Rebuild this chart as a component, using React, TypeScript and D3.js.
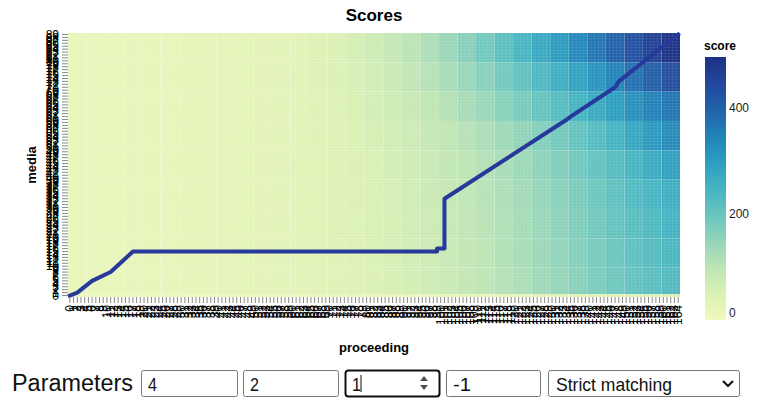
import * as d3 from "d3";

// category labels on both axes
const proceeding = d3.range(165).map(String);
const media = d3.range(90).map(String);

// heatmap is read in blocks: 5 proceedings wide, media bands below
const colStarts = d3.range(0, 165, 5);
const rowStarts = [0, 1, 10, 20, 30, 40, 50, 60, 70, 80];

// score per block, bottom band first (33 columns each)
const scoreBand0 = [5, 5, 5, 6, 6, 6, 7, 7, 8, 8, 9, 9, 10, 10, 11, 12, 13, 14, 15, 16, 17, 18, 19, 20, 21, 22, 24, 26, 28, 30, 32, 34, 36];
const scoreBand1 = [17, 18, 18, 19, 20, 21, 22, 23, 24, 26, 28, 30, 32, 35, 39, 44, 50, 56, 63, 71, 80, 89, 99, 110, 122, 135, 149, 163, 178, 192, 206, 219, 230];
const scoreBand2 = [17, 18, 18, 19, 20, 21, 22, 23, 24, 26, 28, 30, 32, 36, 40, 45, 51, 57, 64, 72, 81, 91, 102, 114, 126, 139, 153, 168, 183, 198, 213, 227, 240];
const scoreBand3 = [17, 18, 18, 19, 20, 21, 22, 23, 24, 26, 28, 30, 32, 36, 41, 46, 52, 58, 65, 74, 83, 93, 104, 116, 129, 143, 158, 173, 189, 204, 219, 234, 250];
const scoreBand4 = [17, 18, 18, 19, 20, 21, 22, 23, 24, 26, 28, 30, 32, 37, 41, 47, 53, 60, 68, 77, 86, 96, 107, 119, 132, 147, 162, 179, 196, 212, 229, 246, 262];
const scoreBand5 = [17, 18, 18, 19, 20, 21, 22, 23, 24, 26, 28, 30, 32, 38, 42, 48, 55, 62, 70, 80, 90, 100, 112, 125, 140, 156, 172, 190, 208, 226, 246, 268, 292];
const scoreBand6 = [17, 18, 18, 19, 20, 21, 22, 23, 24, 26, 28, 30, 32, 39, 44, 50, 57, 65, 75, 85, 96, 108, 121, 136, 152, 168, 186, 205, 226, 250, 278, 305, 330];
const scoreBand7 = [17, 18, 18, 19, 20, 21, 22, 23, 24, 26, 28, 30, 32, 40, 46, 53, 62, 72, 83, 96, 110, 126, 143, 162, 182, 203, 225, 248, 272, 297, 322, 345, 368];
const scoreBand8 = [17, 18, 18, 19, 20, 21, 22, 23, 24, 26, 28, 30, 32, 41, 48, 57, 67, 79, 92, 107, 124, 143, 164, 186, 210, 235, 261, 288, 316, 345, 375, 405, 435];
const scoreBand9 = [17, 18, 18, 19, 20, 21, 22, 23, 24, 26, 28, 30, 32, 42, 50, 60, 72, 86, 102, 120, 141, 164, 189, 216, 244, 273, 303, 334, 366, 398, 430, 460, 490];
const scoreBands = [scoreBand0, scoreBand1, scoreBand2, scoreBand3, scoreBand4, scoreBand5, scoreBand6, scoreBand7, scoreBand8, scoreBand9];

// best alignment path (corner cells)
const pathProceeding = [0, 2, 6, 11, 17, 99, 99, 101, 101, 134, 135, 147, 148, 164];
const pathMedia = [0, 1, 5, 8, 15, 15, 16, 16, 33, 60, 61, 71, 73, 89];

const scoreMax = 495;
const legendTicks = [0, 200, 400];
const ygbColors = ["#eff9bd", "#dbf1b4", "#bde5b5", "#94d5b9", "#69c5be", "#45b4c2", "#2c9ec0", "#2182b8", "#2163aa", "#23479c", "#1c3185"];

const paramValues = ["4", "2", "1", "-1"];
const matchMode = "Strict matching";

const W = 757;
const H = 398;
const plot = { left: 68, right: 680, top: 33, bottom: 297 };
const FONT = "'Liberation Sans', Arial, sans-serif";

export default function App() {
  const x = d3.scaleBand().domain(proceeding).range([plot.left, plot.right]);
  const y = d3.scaleBand().domain(media).range([plot.bottom, plot.top]);
  const bwx = x.bandwidth();
  const bwy = y.bandwidth();
  const color = d3.scaleSequential(d3.piecewise(d3.interpolateRgb, ygbColors)).domain([0, scoreMax]);

  const cells: { x0: number; x1: number; y0: number; y1: number; v: number }[] = [];
  rowStarts.forEach((rs, ri) => {
    const re = ri + 1 < rowStarts.length ? rowStarts[ri + 1] : media.length;
    colStarts.forEach((cs, ci) => {
      const ce = ci + 1 < colStarts.length ? colStarts[ci + 1] : proceeding.length;
      cells.push({
        x0: x(String(cs))!,
        x1: x(String(ce - 1))! + bwx,
        y0: y(String(re - 1))!,
        y1: y(String(rs))! + bwy,
        v: scoreBands[ri][ci],
      });
    });
  });

  const line = d3
    .line<number>()
    .x((i) => x(String(pathProceeding[i]))! + bwx / 2)
    .y((i) => y(String(pathMedia[i]))! + bwy / 2);

  const ly = d3.scaleLinear().domain([0, scoreMax]).range([320, 57]);

  const boxes = [
    { x: 141, w: 96 },
    { x: 243, w: 95 },
    { x: 345, w: 94 },
    { x: 446, w: 94 },
  ];

  return (
    <div style={{ position: "absolute", left: 0, top: 0 }}>
      <svg width={W} height={H} style={{ display: "block", background: "#fff" }}>
        <defs>
          <linearGradient id="lg" x1="0" y1="1" x2="0" y2="0">
            {ygbColors.map((c, i) => (
              <stop key={i} offset={i / (ygbColors.length - 1)} stopColor={c} />
            ))}
          </linearGradient>
        </defs>

        <text x={(plot.left + plot.right) / 2} y={21} textAnchor="middle" fontFamily={FONT} fontWeight="bold" fontSize={17}>
          Scores
        </text>

        {cells.map((c, i) => (
          <rect key={i} x={c.x0} y={c.y0} width={c.x1 - c.x0} height={c.y1 - c.y0} fill={color(c.v)} />
        ))}
        {/* faint cell seams */}
        <g stroke="#fff" strokeOpacity={0.16} strokeWidth={0.6}>
          {proceeding.map((p) => (
            <line key={"v" + p} x1={x(p)!} x2={x(p)!} y1={plot.top} y2={plot.bottom} />
          ))}
          {media.map((m) => (
            <line key={"h" + m} x1={plot.left} x2={plot.right} y1={y(m)!} y2={y(m)!} />
          ))}
        </g>

        <path
          d={line(d3.range(pathProceeding.length)) ?? ""}
          fill="none"
          stroke="#27399a"
          strokeWidth={4}
          strokeLinejoin="round"
          strokeLinecap="square"
        />

        {/* x axis */}
        <g>
          {proceeding.map((p) => {
            const cx = x(p)! + bwx / 2;
            return (
              <g key={p}>
                <line x1={cx} x2={cx} y1={plot.bottom} y2={plot.bottom + 6} stroke="#888" strokeWidth={1} />
                <text
                  transform={`translate(${cx + 4},${plot.bottom + 8}) rotate(-90)`}
                  textAnchor="end"
                  fontFamily={FONT}
                  fontSize={12}
                  fill="#000"
                >
                  {p}
                </text>
              </g>
            );
          })}
          <text x={(plot.left + plot.right) / 2} y={352} textAnchor="middle" fontFamily={FONT} fontWeight="bold" fontSize={13}>
            proceeding
          </text>
        </g>

        {/* y axis */}
        <g>
          {media.map((m) => {
            const cy = y(m)! + bwy / 2;
            return (
              <g key={m}>
                <line x1={plot.left - 6} x2={plot.left} y1={cy} y2={cy} stroke="#888" strokeWidth={1} />
                <text x={plot.left - 9} y={cy} dy="0.35em" textAnchor="end" fontFamily={FONT} fontSize={12} fill="#000">
                  {m}
                </text>
              </g>
            );
          })}
          <text
            transform={`translate(36,${(plot.top + plot.bottom) / 2}) rotate(-90)`}
            textAnchor="middle"
            fontFamily={FONT}
            fontWeight="bold"
            fontSize={13}
          >
            media
          </text>
        </g>

        {/* legend */}
        <g>
          <text x={704} y={50} fontFamily={FONT} fontWeight="bold" fontSize={12}>
            score
          </text>
          <rect x={705} y={57} width={21} height={263} fill="url(#lg)" />
          {legendTicks.map((t) => (
            <text key={t} x={729} y={Math.min(ly(t), 313)} dy="0.35em" fontFamily={FONT} fontSize={12} fill="#222">
              {t}
            </text>
          ))}
        </g>

        {/* parameter form */}
        <g fontFamily={FONT}>
          <text x={12} y={391} fontSize={23} textLength={121} lengthAdjust="spacingAndGlyphs" fill="#111">
            Parameters
          </text>
          {boxes.map((b, i) => (
            <g key={i}>
              <rect
                x={b.x + 0.5}
                y={370.5}
                width={b.w}
                height={26}
                rx={i === 2 ? 3 : 2}
                fill="#fff"
                stroke={i === 2 ? "#101010" : "#767676"}
                strokeWidth={i === 2 ? 2 : 1}
              />
              <text x={b.x + 7} y={391} fontSize={19} fill="#111" textLength={paramValues[i].length * 9} lengthAdjust="spacingAndGlyphs">
                {paramValues[i]}
              </text>
            </g>
          ))}
          {/* caret and spinner of focused box */}
          <line x1={361} x2={361} y1={375} y2={392} stroke="#111" strokeWidth={1} />
          <path d="M420,381 L424,376 L428,381 Z M420,385 L424,390 L428,385 Z" fill="#505050" />
          <rect x={548.5} y={370.5} width={191} height={26} rx={2} fill="#fff" stroke="#767676" />
          <text x={556} y={391} fontSize={19} fill="#111" textLength={116} lengthAdjust="spacingAndGlyphs">
            {matchMode}
          </text>
          <path d="M723,381 L728,386 L733,381" fill="none" stroke="#111" strokeWidth={2} />
        </g>
      </svg>
    </div>
  );
}
